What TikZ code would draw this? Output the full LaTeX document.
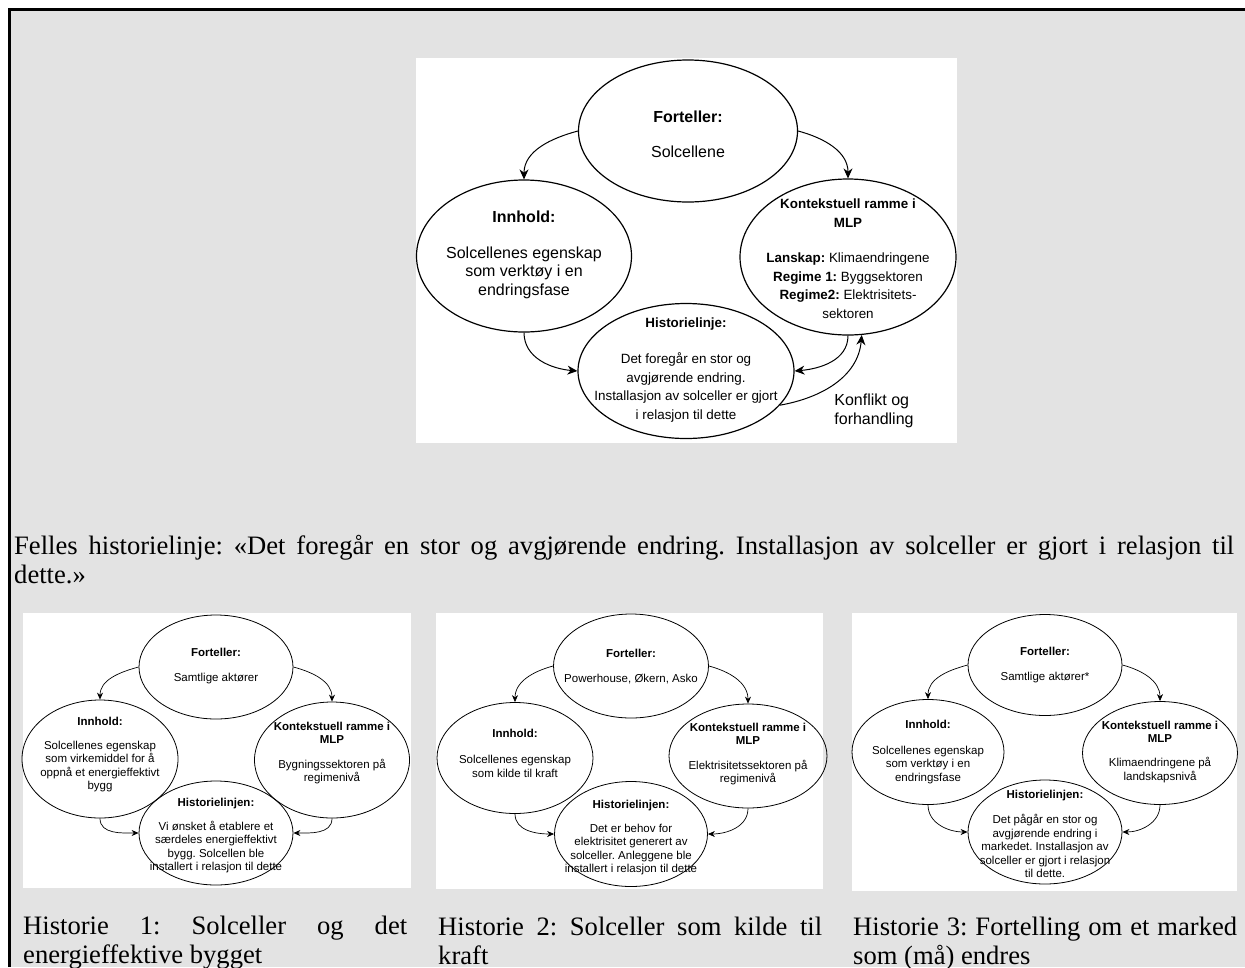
\documentclass[tikz,border=0pt]{standalone}
\usepackage{fontspec}
\setmainfont{Liberation Serif}
\newfontfamily\diagfont{Liberation Sans}
\usetikzlibrary{positioning,arrows.meta,shapes.geometric}
\definecolor{pagegrey}{RGB}{227,227,227}
\frenchspacing

\begin{document}
\begin{tikzpicture}[x=1pt,y=-1pt,
bubble/.style={draw, ellipse, line width=1.2pt, inner sep=0pt},
smallbubble/.style={draw, ellipse, line width=0.8pt, inner sep=0pt},
bigtxt/.style={align=center, inner sep=0pt, font=\diagfont\fontsize{16}{18.5}\selectfont},
midtxt/.style={align=center, inner sep=0pt, font=\diagfont\fontsize{13.4}{18.7}\selectfont},
smalltxt/.style={align=center, inner sep=0pt, font=\diagfont\fontsize{11.5}{13.6}\selectfont},
flow/.style={-{Stealth[length=10pt,width=9pt]}, line width=1pt},
smallflow/.style={-{Stealth[length=7pt,width=6pt]}, line width=0.7pt},
panel/.style={fill=white, inner sep=0pt, anchor=north west},
caption/.style={text width=384pt, align=justify, inner sep=0pt, font=\fontsize{26.6}{29.5}\selectfont},
]
\useasboundingbox (0,0) rectangle (1245,967);
\fill[white] (0,0) rectangle (1245,967);
\fill[pagegrey] (9.5,9.5) rectangle (1245,967);
\draw[line width=3pt] (9.5,967) -- (9.5,9.5) -- (1245,9.5);

%%% main picture
\node[panel, minimum width=541pt, minimum height=385pt] (mainpic) at (416,58) {};
% teller
\node[bubble, minimum width=219pt, minimum height=142pt] (forteller) at (688,131) {};
\node[bigtxt] (fortellertxt) at (688,134.5) {\textbf{Forteller:}\\[16.5pt]Solcellene};
% content
\node[bubble, minimum width=215pt, minimum height=152pt] (innhold) at (524,256) {};
\node[bigtxt] (innholdtxt) at (524,254.5) {\textbf{Innhold:}\\[17.5pt]Solcellenes egenskap\\som verktøy i en\\endringsfase};
% context in MLP
\node[bubble, minimum width=216pt, minimum height=156pt] (kontekst) at (848,257) {};
\node[midtxt] (kontekstxt) at (848,259) {\textbf{Kontekstuell ramme i}\\\textbf{MLP}\\[16.3pt]\textbf{Lanskap:} Klimaendringene\\\textbf{Regime 1:} Byggsektoren\\\textbf{Regime2:} Elektrisitets-\\sektoren};
% storyline
\node[bubble, minimum width=216pt, minimum height=135pt] (historie) at (686,371) {};
\node[midtxt] (historietxt) at (686,370) {\textbf{Historielinje:}\\[17.3pt]Det foregår en stor og\\avgjørende endring.\\Installasjon av solceller er gjort\\i relasjon til dette};
\node[bigtxt, align=left] (konflikt) at (874,411) {Konflikt og\\forhandling};

\draw[flow] (forteller.west) to[out=195,in=90] (innhold.north);
\draw[flow] (forteller.east) to[out=-15,in=90] (kontekst.north);
\draw[flow] (innhold.south) to[out=-90,in=175] (historie.west);
\draw[flow] (kontekst.south) to[out=-90,in=5] (historie.east);
\draw[flow] (historie.-20) to[out=10,in=-95] (kontekst.-80);

\node[anchor=north west, text width=1220pt, align=justify, inner sep=0pt, font=\fontsize{26.6}{29.5}\selectfont] (felles) at (14,535) {Felles historielinje: «Det foregår en stor og avgjørende endring. Installasjon av solceller er gjort i relasjon til\linebreak dette.»};

%%% story 1
\node[panel, minimum width=388pt, minimum height=275pt] (pic1) at (23,613) {};
\node[smallbubble, minimum width=154pt, minimum height=104pt] (f1) at (216,667) {};
\node[smalltxt] (f1t) at (216,666.5) {\textbf{Forteller:}\\[11.4pt]Samtlige aktører};
\node[smallbubble, minimum width=156pt, minimum height=118pt] (i1) at (100,759) {};
\node[smalltxt] (i1t) at (100,754.5) {\textbf{Innhold:}\\[10.4pt]Solcellenes egenskap\\som virkemiddel for å\\oppnå et energieffektivt\\bygg};
\node[smallbubble, minimum width=155pt, minimum height=116pt] (k1) at (332,760) {};
\node[smalltxt] (k1t) at (332,753) {\textbf{Kontekstuell ramme i}\\\textbf{MLP}\\[11pt]Bygningssektoren på\\regimenivå};
\node[smallbubble, minimum width=154pt, minimum height=104pt] (h1) at (216,833) {};
\node[smalltxt] (h1t) at (216,835.5) {\textbf{Historielinjen:}\\[10.4pt]Vi ønsket å etablere et\\særdeles energieffektivt\\bygg. Solcellen ble\\installert i relasjon til dette};
\draw[smallflow] (f1.west) to[out=195,in=90] (i1.north);
\draw[smallflow] (f1.east) to[out=-15,in=90] (k1.north);
\draw[smallflow] (i1.south) to[out=-90,in=180] (h1.west);
\draw[smallflow] (k1.south) to[out=-90,in=0] (h1.east);
\node[caption, below=27pt of pic1.south west, anchor=north west] (cap1) {Historie 1: Solceller og det\linebreak energieffektive bygget};

%%% story 2
\node[panel, minimum width=387pt, minimum height=276pt] (pic2) at (436,613) {};
\node[smallbubble, minimum width=155pt, minimum height=104pt] (f2) at (631,666) {};
\node[smalltxt] (f2t) at (631,666.5) {\textbf{Forteller:}\\[11.4pt]Powerhouse, Økern, Asko};
\node[smallbubble, minimum width=156pt, minimum height=111pt] (i2) at (515,758) {};
\node[smalltxt] (i2t) at (515,753.5) {\textbf{Innhold:}\\[12.4pt]Solcellenes egenskap\\som kilde til kraft};
\node[smallbubble, minimum width=158pt, minimum height=104pt] (k2) at (748,756) {};
\node[smalltxt] (k2t) at (748,754) {\textbf{Kontekstuell ramme i}\\\textbf{MLP}\\[11pt]Elektrisitetssektoren på\\regimenivå};
\node[smallbubble, minimum width=153pt, minimum height=105pt] (h2) at (631,834) {};
\node[smalltxt] (h2t) at (631,837.5) {\textbf{Historielinjen:}\\[10.4pt]Det er behov for\\elektrisitet generert av\\solceller. Anleggene ble\\installert i relasjon til dette};
\draw[smallflow] (f2.west) to[out=195,in=90] (i2.north);
\draw[smallflow] (f2.east) to[out=-15,in=90] (k2.north);
\draw[smallflow] (i2.south) to[out=-90,in=180] (h2.west);
\draw[smallflow] (k2.south) to[out=-90,in=0] (h2.east);
\node[caption, below=27pt of pic2.south west, anchor=north west, xshift=2pt] (cap2) {Historie 2: Solceller som kilde til\linebreak kraft};

%%% story 3
\node[panel, minimum width=385pt, minimum height=278pt] (pic3) at (852,613) {};
\node[smallbubble, minimum width=154pt, minimum height=101pt] (f3) at (1045,665) {};
\node[smalltxt] (f3t) at (1045,665.5) {\textbf{Forteller:}\\[11.4pt]Samtlige aktører*};
\node[smallbubble, minimum width=152pt, minimum height=105pt] (i3) at (928,752) {};
\node[smalltxt] (i3t) at (928,752) {\textbf{Innhold:}\\[12.4pt]Solcellenes egenskap\\som verktøy i en\\endringsfase};
\node[smallbubble, minimum width=155pt, minimum height=103pt] (k3) at (1160,753) {};
\node[smalltxt] (k3t) at (1160,752) {\textbf{Kontekstuell ramme i}\\\textbf{MLP}\\[10.4pt]Klimaendringene på\\landskapsnivå};
\node[smallbubble, minimum width=154pt, minimum height=104pt] (h3) at (1045,832) {};
\node[smalltxt] (h3t) at (1045,834) {\textbf{Historielinjen:}\\[11.4pt]Det pågår en stor og\\avgjørende endring i\\markedet. Installasjon av\\solceller er gjort i relasjon\\til dette.};
\draw[smallflow] (f3.west) to[out=195,in=90] (i3.north);
\draw[smallflow] (f3.east) to[out=-15,in=90] (k3.north);
\draw[smallflow] (i3.south) to[out=-90,in=180] (h3.west);
\draw[smallflow] (k3.south) to[out=-90,in=0] (h3.east);
\node[caption, below=25pt of pic3.south west, anchor=north west, xshift=1pt] (cap3) {Historie 3: Fortelling om et marked\linebreak som (må) endres};
\end{tikzpicture}
\end{document}
